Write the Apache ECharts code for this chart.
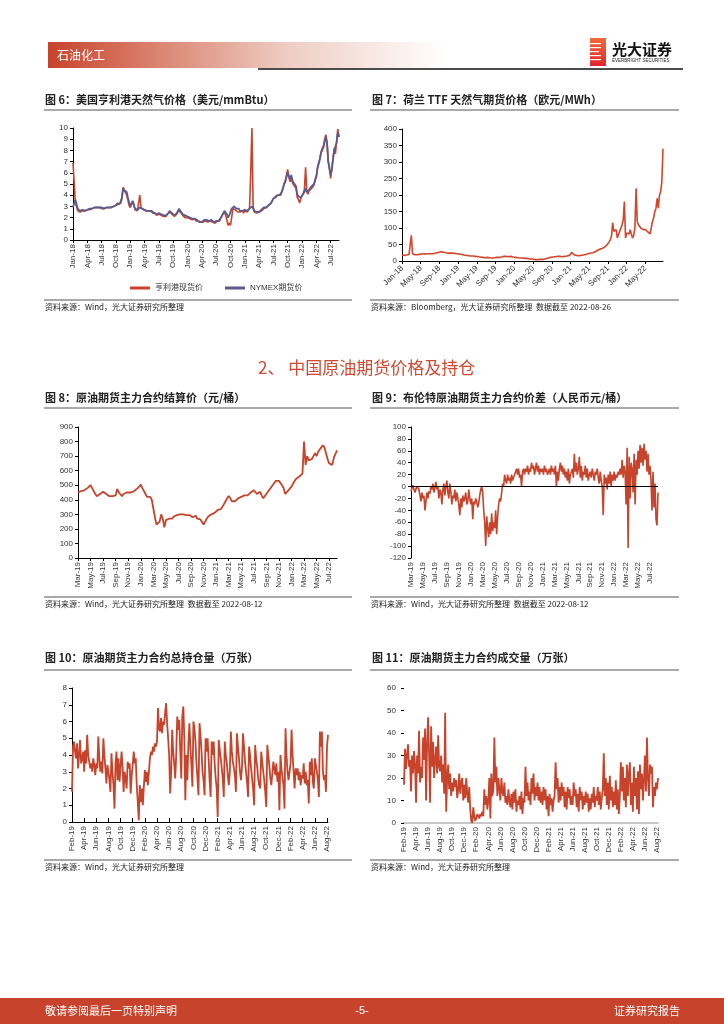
<!DOCTYPE html>
<html><head><meta charset="utf-8">
<script src="https://cdn.jsdelivr.net/npm/echarts@6/dist/echarts.min.js"></script>
<style>html,body{margin:0;padding:0;background:#fff}#c{width:724px;height:1024px}</style>
</head><body><div id="c"></div>
<script>
// ---------- DATA ----------
// Fig 6: Henry Hub (USD/mmBtu), Jan-18 .. Aug-22, 4 samples per month
const hhSpot = [
 6.9,5.1,3.3,3.2, 2.6,2.6,2.5,2.6, 2.6,2.7,2.6,2.7, 2.7,2.7,2.7,2.8, 2.8,2.8,2.9,2.9, 2.9,2.9,2.9,2.9, 2.8,2.8,2.8,2.8, 2.9,2.9,2.9,2.9, 2.9,2.9,3.0,3.0, 3.1,3.3,3.2,3.2, 3.3,3.8,4.7,4.5, 4.4,4.0,3.6,3.1,
 2.9,3.0,3.4,3.1, 2.7,2.6,2.6,2.7, 4.0,2.9,2.8,2.7, 2.6,2.6,2.5,2.6, 2.6,2.6,2.5,2.4, 2.3,2.4,2.2,2.3, 2.3,2.3,2.2,2.1, 2.1,2.2,2.1,2.3, 2.4,2.5,2.5,2.3, 2.2,2.1,2.2,2.3, 2.6,2.7,2.5,2.4, 2.2,2.2,2.0,2.1,
 2.0,2.0,1.9,1.8, 1.8,1.7,1.9,1.7, 1.8,1.7,1.6,1.6, 1.5,1.6,1.7,1.7, 1.7,1.6,1.6,1.7, 1.6,1.6,1.5,1.5, 1.6,1.7,1.7,1.7, 2.0,2.2,2.3,2.5, 2.2,1.8,1.3,1.5, 1.3,2.0,2.8,2.9, 2.7,2.6,2.5,2.6, 2.5,2.5,2.6,2.4,
 2.6,2.7,2.5,2.5, 2.8,6.0,10.0,3.0, 2.5,2.5,2.4,2.5, 2.5,2.5,2.6,2.7, 2.8,2.9,2.9,3.0, 3.1,3.2,3.3,3.5, 3.7,3.7,3.8,4.0, 4.0,4.0,4.0,4.3, 4.6,5.0,5.3,5.8, 6.3,5.6,5.2,5.6, 5.1,4.9,4.8,4.6, 3.8,3.6,3.3,3.7,
 3.8,4.2,4.5,6.5, 4.3,4.1,4.4,4.5, 4.6,4.5,4.9,5.3, 5.6,6.5,6.9,7.3, 7.9,8.2,8.4,9.0, 9.4,8.7,7.0,6.5, 5.5,6.4,7.3,8.2, 7.7,8.8,9.9,9.2
];
const hhFut = [
 2.9,3.3,3.6,3.2, 2.8,2.7,2.6,2.7, 2.7,2.7,2.6,2.7, 2.7,2.7,2.8,2.8, 2.8,2.8,2.9,2.9, 2.9,2.9,2.9,2.9, 2.9,2.8,2.8,2.8, 2.9,2.9,2.9,2.9, 2.9,2.9,3.0,3.0, 3.1,3.2,3.2,3.2, 3.3,3.7,4.6,4.4, 4.5,4.3,3.8,3.4,
 3.0,3.1,3.5,3.2, 2.8,2.7,2.7,2.8, 2.9,2.8,2.8,2.7, 2.7,2.6,2.6,2.6, 2.6,2.6,2.6,2.5, 2.4,2.4,2.3,2.3, 2.4,2.3,2.3,2.2, 2.2,2.2,2.2,2.3, 2.4,2.6,2.5,2.4, 2.3,2.2,2.3,2.4, 2.6,2.8,2.6,2.5, 2.3,2.3,2.2,2.2,
 2.1,2.1,2.0,1.9, 1.9,1.8,1.9,1.8, 1.8,1.8,1.6,1.7, 1.6,1.7,1.8,1.8, 1.8,1.7,1.7,1.8, 1.8,1.7,1.6,1.6, 1.7,1.8,1.7,1.8, 2.0,2.2,2.4,2.6, 2.5,2.3,2.0,2.2, 2.5,2.8,2.9,3.0, 3.0,2.8,2.7,2.8, 2.6,2.6,2.6,2.5,
 2.7,2.8,2.6,2.6, 2.8,2.9,3.0,2.8, 2.6,2.6,2.5,2.5, 2.5,2.6,2.7,2.8, 2.9,2.9,2.9,3.0, 3.1,3.2,3.3,3.5, 3.7,3.7,3.9,4.0, 4.0,4.1,4.0,4.3, 4.6,5.0,5.2,5.6, 6.0,5.7,5.4,5.8, 5.3,5.1,5.0,4.8, 4.1,3.9,3.8,3.8,
 3.9,4.1,4.3,4.6, 4.3,4.2,4.5,4.6, 4.8,4.7,5.0,5.4, 5.7,6.4,6.8,7.2, 7.8,8.0,8.3,8.8, 9.2,8.6,7.0,6.3, 5.8,6.3,7.2,8.0, 8.0,8.7,9.6,9.2
];
const ticks6 = ['Jan-18','Apr-18','Jul-18','Oct-18','Jan-19','Apr-19','Jul-19','Oct-19','Jan-20','Apr-20','Jul-20','Oct-20','Jan-21','Apr-21','Jul-21','Oct-21','Jan-22','Apr-22','Jul-22'];

// Fig 7: TTF (EUR/MWh), Jan-18 .. Aug-22, 4 samples per month
const ttf = [
 18,18,17,18, 18,19,20,21, 78,22,20,19, 19,19,20,20, 21,21,22,22, 21,21,22,22, 21,22,22,22, 23,24,25,26, 27,28,29,27, 26,25,24,24, 24,24,25,24, 23,23,22,22,
 22,21,21,20, 19,18,18,17, 16,16,15,15, 15,15,14,14, 14,13,13,12, 11,11,10,10, 11,11,10,10, 10,9,10,10, 10,11,11,11, 11,12,13,14, 15,14,13,13, 13,14,12,12,
 12,11,10,10, 10,9,9,9, 9,8,8,8, 7,6,6,6, 5,5,4,4, 4,5,5,5, 5,5,6,7, 8,9,10,11, 11,12,13,13, 13,14,14,14, 13,13,14,14, 14,15,16,17,
 20,26,20,19, 18,17,16,16, 17,17,18,18, 19,20,21,22, 23,24,25,25, 26,28,30,32, 34,36,37,38, 40,42,45,48, 52,58,65,75, 116,90,85,95, 70,80,90,95, 110,125,180,70,
 85,80,82,95, 80,70,78,100, 220,120,110,115, 100,105,95,100, 95,90,88,85, 82,76,120,130, 150,160,190,160, 200,210,240,340
];
const ticks7 = ['Jan-18','May-18','Sep-18','Jan-19','May-19','Sep-19','Jan-20','May-20','Sep-20','Jan-21','May-21','Sep-21','Jan-22','May-22'];

// Fig 8: SC settlement (CNY/bbl), Mar-19 .. 12 Aug-22, 4 samples per month
const scSettle = [
 450,455,460,455, 465,475,480,490, 500,480,470,440, 425,430,440,450, 455,445,440,440, 425,420,425,430, 430,475,450,440, 425,440,445,450, 455,450,455,455, 460,470,480,490,
 505,480,470,440, 420,410,420,400, 340,280,230,240, 250,300,270,210, 260,250,270,280, 270,285,290,295, 300,300,295,300, 300,295,290,295, 290,280,285,290, 270,260,265,265, 230,250,270,285, 290,300,305,310,
 320,330,340,335, 345,370,390,410, 425,410,390,385, 390,395,410,420, 420,425,430,420, 430,440,450,460, 465,460,440,450, 455,430,410,420, 440,455,470,480, 500,515,530,535, 530,525,500,480, 440,450,465,470,
 490,510,530,545, 550,560,570,580, 800,640,700,670, 660,680,700,720, 700,730,745,760, 775,760,720,680, 650,660,640,690, 680,740
];
const ticks89 = ['Mar-19','May-19','Jul-19','Sep-19','Nov-19','Jan-20','Mar-20','May-20','Jul-20','Sep-20','Nov-20','Jan-21','Mar-21','May-21','Jul-21','Sep-21','Nov-21','Jan-22','Mar-22','May-22','Jul-22'];

// Fig 9: Brent vs SC spread (CNY/bbl), Mar-19 .. 12 Aug-22, 6 samples per month
const spread = [
 -8,-3,2,-5,-10,-4, 0,2,-5,-15,-25,-10, -20,-15,-40,-25,-10,-20, -8,-12,0,-5,5,-10, -2,8,-5,0,-20,-5, -10,-30,-5,5,-15,0, 10,-10,-20,5,-8,-30, -15,-20,-5,-25,-10,-20, -30,-48,-20,-35,-15,-25, -20,-10,-30,-25,-5,-20,
 -30,-20,-55,-25,-30,-20, -25,-35,-28,-15,-5,0, -10,-40,-60,-100,-50,-70, -85,-60,-80,-45,-75,-60, -70,-40,-80,-50,-30,-20, -25,-10,5,0,20,10, 5,20,10,15,5,20, 10,15,20,25,30,20, 30,15,20,0,25,30, 20,30,25,35,20,30, 25,40,30,35,20,30, 40,25,35,20,30,25,
 30,20,35,25,30,20, 25,30,20,35,25,30, 20,35,0,25,10,30, 40,25,35,20,30,15, 25,10,30,5,20,25, 30,15,55,25,40,20, 30,50,15,35,10,25, 20,35,15,30,10,20, 25,15,30,20,10,25, 20,30,15,5,25,10, 0,-48,20,5,15,-5, 20,5,25,0,20,10,
 25,10,20,15,25,20, 30,20,45,15,35,25, -30,65,-103,50,-20,40, 30,-10,55,-30,45,20, 60,30,70,40,65,35, 72,45,60,25,55,20, 35,10,-40,25,-35,5, -55,-65,-10
];

// Fig 10: open interest (10k lots), Feb-19 .. Aug-22, 6 samples per month
const openInt = [
 1.8,4.5,4.8,4.2,3.8,4.7, 3.2,4.0,4.9,3.5,3.8,4.2, 3.0,4.3,3.5,5.2,4.0,3.6, 3.2,3.5,3.0,3.8,3.4,2.8, 3.5,3.2,5.1,3.8,3.0,3.6, 2.9,5.0,4.0,3.2,2.3,3.4, 3.0,2.5,1.8,4.1,3.0,2.2, 0.8,3.5,4.2,2.5,3.8,2.4, 2.4,4.2,3.3,1.8,3.0,2.6, 2.0,3.6,3.2,3.5,1.7,2.8, 3.4,4.2,3.5,3.8,2.2,1.2,
 0.1,2.2,1.2,2.0,1.0,2.1, 3.1,2.4,3.0,2.2,3.0,3.8, 4.2,4.0,4.5,4.2,4.7,4.5, 4.8,6.8,5.6,5.4,6.2,5.3, 6.0,5.8,6.5,7.1,5.9,5.0, 4.0,1.7,3.0,5.5,4.2,3.5, 2.6,4.0,6.3,5.5,6.1,4.2, 2.6,6.3,6.9,5.0,1.3,4.0, 2.5,4.6,5.9,4.5,3.4,2.1, 6.0,5.6,4.8,3.5,2.6,1.6, 5.9,5.2,4.2,3.0,2.5,1.6, 5.0,4.2,5.0,3.8,2.5,1.5,
 4.8,4.0,4.8,3.5,2.6,2.0, 0.3,4.9,4.3,3.8,3.2,2.6, 1.5,4.8,4.0,3.5,2.8,2.2, 3.0,5.4,4.2,3.6,3.2,2.8, 1.8,5.3,4.5,3.8,3.0,2.5, 3.3,5.3,4.5,3.6,3.0,2.4, 1.5,4.5,4.0,3.2,2.6,2.0, 1.0,4.6,3.8,3.3,2.6,2.2, 2.0,4.2,3.6,3.0,2.5,1.8, 0.9,4.6,4.0,3.4,2.6,2.2, 2.2,3.6,3.2,2.8,3.5,2.4, 3.0,0.7,4.0,3.2,2.7,2.2,
 0.8,5.6,4.0,3.0,2.5,2.6, 3.5,5.5,4.0,3.0,2.0,3.2, 2.8,3.2,2.5,3.0,2.2,2.8, 2.6,3.5,2.3,3.0,2.2,2.5, 1.1,3.6,2.8,3.8,2.4,2.0, 3.8,3.4,3.0,2.5,1.5,5.4, 4.5,5.4,3.0,2.5,2.8,1.8, 4.5,5.2
];

// Fig 11: volume (10k lots), Feb-19 .. Aug-22, 6 samples per month
const volume = [
 17,33,24,30,35,25, 28,14,30,22,32,26, 9,30,22,41,18,25, 20,38,28,42,10,35, 47,30,9,43,25,36, 20,28,34,22,39,25, 23,30,18,26,13,49, 5,20,26,15,22,12, 18,14,20,16,19,11, 15,22,13,18,20,10, 17,11,20,13,9,16,
 6,1,0,7,3,1, 2,4,3,2,4,3, 5,3,15,8,12,6, 10,20,2,22,12,15, 38,18,25,12,20,15, 10,20,14,12,18,9, 12,8,15,10,7,13, 6,14,9,15,5,10, 8,12,6,14,4,11, 9,25,12,18,10,14, 8,20,13,22,10,16, 12,18,10,16,9,14,
 8,16,10,15,6,12, 3,13,8,11,5,10, 12,27,15,20,9,16, 10,18,12,16,7,14, 6,16,11,15,8,12, 8,18,12,15,7,13, 5,16,10,14,6,12, 8,14,9,13,5,11, 6,13,9,16,7,12, 10,16,8,14,6,11, 15,31,12,20,8,18, 6,21,10,16,7,14,
 8,19,6,15,4,12, 27,14,25,10,20,7, 26,12,22,27,8,18, 5,25,12,20,6,23, 4,26,15,22,10,19, 30,14,38,20,12,26, 22,25,7,16,12,18, 15,20
];
const ticks1011 = ['Feb-19','Apr-19','Jun-19','Aug-19','Oct-19','Dec-19','Feb-20','Apr-20','Jun-20','Aug-20','Oct-20','Dec-20','Feb-21','Apr-21','Jun-21','Aug-21','Oct-21','Dec-21','Feb-22','Apr-22','Jun-22','Aug-22'];

// ---------- helpers ----------
const MON = ['Jan','Feb','Mar','Apr','May','Jun','Jul','Aug','Sep','Oct','Nov','Dec'];
function cats(yy, m0, perMonth, n) {
  const out = [];
  for (let i = 0; i < n; i++) {
    const mi = m0 + Math.floor(i / perMonth);
    const lab = MON[mi % 12] + '-' + (yy + Math.floor(mi / 12));
    const k = i % perMonth;
    out.push(k === 0 ? lab : lab + '#' + k);
  }
  return out;
}
const FF = "'Liberation Sans','Noto Sans CJK SC',sans-serif";
const CJK = "'Noto Sans CJK SC',sans-serif";
const RED = '#C8432B', PURPLE = '#5C5A8C';

function xAx(gi, data, ticks, rotate, extra) {
  const f = (i, v) => ticks.indexOf(v) >= 0;
  const a = {
    type: 'category', gridIndex: gi, data: data, boundaryGap: false,
    axisLine: {show: true, onZero: false, lineStyle: {color: '#000', width: 1}},
    axisTick: {show: true, interval: f, length: 3, inside: false, lineStyle: {color: '#000'}},
    axisLabel: {interval: f, rotate: rotate, fontSize: 8, color: '#333', fontFamily: FF, margin: 4, hideOverlap: false, formatter: v => v},
    splitLine: {show: false}
  };
  if (extra) extra(a);
  return a;
}
function yAx(gi, min, max, interval, extra) {
  const a = {
    type: 'value', gridIndex: gi, min: min, max: max, interval: interval,
    axisLine: {show: true, lineStyle: {color: '#000', width: 1}},
    axisTick: {show: true, length: 3, lineStyle: {color: '#000'}},
    axisLabel: {fontSize: 8, color: '#333', fontFamily: FF, margin: 5},
    splitLine: {show: false}
  };
  if (extra) extra(a);
  return a;
}
function line(name, xi, data, color, width, extra) {
  const s = {name: name, type: 'line', xAxisIndex: xi, yAxisIndex: xi, data: data, symbol: 'none', showSymbol: false,
    lineStyle: {color: color, width: width}, itemStyle: {color: color}, silent: true, z: 3};
  if (extra) Object.assign(s, extra);
  return s;
}
function txt(x, y, t, font, fill, align) {
  return {type: 'text', x: x, y: y, silent: true, style: {text: t, font: font, fill: fill || '#222', align: align || 'left', verticalAlign: 'middle'}};
}
function hl(x1, x2, y, color, w) {
  return {type: 'line', silent: true, shape: {x1: x1, y1: y, x2: x2, y2: y}, style: {stroke: color || '#555', lineWidth: w || 1}};
}

// ---------- categories ----------
const c6 = cats(18, 0, 4, hhSpot.length);
const c7 = cats(18, 0, 4, ttf.length);
const c8 = cats(19, 2, 4, scSettle.length);
const c9 = cats(19, 2, 6, spread.length);
const c10 = cats(19, 1, 6, openInt.length);
const c11 = cats(19, 1, 6, volume.length);

// ---------- graphics ----------
const TF = "bold 11px " + CJK;
const SF = "8px " + CJK;
const graphics = [
  {type: 'rect', silent: true, shape: {x: 48, y: 42, width: 400, height: 26},
   style: {fill: new echarts.graphic.LinearGradient(0, 0, 1, 0, [
     {offset: 0, color: '#C8432B'}, {offset: 0.3, color: '#DC8A77'}, {offset: 0.6, color: '#EFCDC4'}, {offset: 1, color: '#FFFFFF'}])}},
  txt(57, 55, '石油化工', '12px ' + CJK, '#FFFFFF'),
  hl(258, 683, 69, '#111', 1.5),
  // logo
  {type: 'rect', silent: true, shape: {x: 590, y: 38, width: 16, height: 28},
   style: {fill: new echarts.graphic.LinearGradient(0, 0, 0, 1, [{offset: 0, color: '#F26A3A'}, {offset: 1, color: '#E1262C'}])}},
  {type: 'rect', silent: true, shape: {x: 590, y: 43, width: 11, height: 1.2}, style: {fill: '#fff'}},
  {type: 'rect', silent: true, shape: {x: 590, y: 47, width: 11, height: 1.2}, style: {fill: '#fff'}},
  {type: 'rect', silent: true, shape: {x: 590, y: 51, width: 9, height: 1.2}, style: {fill: '#fff'}},
  {type: 'rect', silent: true, shape: {x: 590, y: 55, width: 11, height: 1.2}, style: {fill: '#fff'}},
  {type: 'rect', silent: true, shape: {x: 590, y: 59, width: 11, height: 1.2}, style: {fill: '#fff'}},
  txt(612, 49, '光大证券', 'bold 15px ' + CJK, '#111'),
  txt(612, 61, 'EVERBRIGHT SECURITIES', '4.5px ' + FF, '#222'),
  // titles
  txt(45, 100, '图 6：美国亨利港天然气价格（美元/mmBtu）', TF),
  hl(44, 352, 110),
  txt(372, 100, '图 7：荷兰 TTF 天然气期货价格（欧元/MWh）', TF),
  hl(370, 679, 110),
  txt(45, 398, '图 8：原油期货主力合约结算价（元/桶）', TF),
  hl(44, 352, 408),
  txt(372, 398, '图 9：布伦特原油期货主力合约价差（人民币元/桶）', TF),
  hl(370, 679, 408),
  txt(45, 658, '图 10：原油期货主力合约总持仓量（万张）', TF),
  hl(44, 352, 670),
  txt(372, 658, '图 11：原油期货主力合约成交量（万张）', TF),
  hl(370, 679, 670),
  // sources
  hl(44, 352, 300), txt(45, 307, '资料来源：Wind，光大证券研究所整理', SF),
  hl(370, 679, 300), txt(371, 307, '资料来源：Bloomberg，光大证券研究所整理  数据截至 2022-08-26', SF),
  hl(44, 352, 597), txt(45, 604, '资料来源：Wind，光大证券研究所整理  数据截至 2022-08-12', SF),
  hl(370, 679, 597), txt(371, 604, '资料来源：Wind，光大证券研究所整理  数据截至 2022-08-12', SF),
  hl(44, 352, 860), txt(45, 867, '资料来源：Wind，光大证券研究所整理', SF),
  hl(370, 679, 860), txt(371, 867, '资料来源：Wind，光大证券研究所整理', SF),
  // section heading
  txt(258, 368, '2、 中国原油期货价格及持仓', '17px ' + CJK, '#CF4A30'),
  // footer
  {type: 'rect', silent: true, shape: {x: 0, y: 998, width: 724, height: 26}, style: {fill: '#C8432B'}},
  txt(45, 1011, '敬请参阅最后一页特别声明', '11px ' + CJK, '#FFFFFF'),
  txt(362, 1011, '-5-', '11px ' + FF, '#FFFFFF', 'center'),
  txt(680, 1011, '证券研究报告', '11px ' + CJK, '#FFFFFF', 'right')
];

// ---------- option ----------
const option = {
  animation: false,
  backgroundColor: '#fff',
  textStyle: {fontFamily: FF},
  grid: [
    {left: 73, top: 128, width: 266, height: 112},
    {left: 402, top: 129, width: 261, height: 132},
    {left: 78, top: 427, width: 259, height: 131},
    {left: 411, top: 427, width: 247, height: 131},
    {left: 72, top: 688, width: 256, height: 134},
    {left: 404, top: 688, width: 254, height: 135}
  ],
  xAxis: [
    xAx(0, c6, ticks6, 90),
    xAx(1, c7, ticks7, 45, a => { a.axisLabel.margin = 6; }),
    xAx(2, c8, ticks89, 90),
    xAx(3, c9, ticks89, 90, a => { a.axisLine.show = false; a.axisTick.show = false; }),
    xAx(4, c10, ticks1011, 90, a => { a.axisTick.inside = true; a.axisTick.length = 4; }),
    xAx(5, c11, ticks1011, 90, a => { a.axisLine.lineStyle = {color: '#C8C8C8', width: 2}; a.axisTick.show = false; })
  ],
  yAxis: [
    yAx(0, 0, 10, 1),
    yAx(1, 0, 400, 50),
    yAx(2, 0, 900, 100),
    yAx(3, -120, 100, 20),
    yAx(4, 0, 8, 1),
    yAx(5, 0, 60, 10, a => { a.axisLine.show = false; a.axisLabel.margin = 8; })
  ],
  legend: {
    data: ['亨利港现货价', 'NYMEX期货价'], left: 125, top: 279, icon: 'rect',
    itemWidth: 20, itemHeight: 3, itemGap: 22,
    textStyle: {fontSize: 8, color: '#333', fontFamily: FF}
  },
  series: [
    line('亨利港现货价', 0, hhSpot, RED, 1.6),
    line('NYMEX期货价', 0, hhFut, PURPLE, 1.8, {z: 4}),
    line('TTF', 1, ttf, '#D2462C', 1.6),
    line('结算价', 2, scSettle, RED, 1.8),
    line('价差', 3, spread, RED, 1.6, {markLine: {silent: true, symbol: 'none', label: {show: false},
      lineStyle: {color: '#000', width: 1, type: 'solid'}, data: [{yAxis: 0}]}}),
    line('总持仓量', 4, openInt, RED, 1.8),
    line('成交量', 5, volume, RED, 1.8)
  ],
  graphic: graphics
};

const chart = echarts.init(document.getElementById('c'), null, {renderer: 'canvas'});
chart.setOption(option);
</script>
</body></html>
